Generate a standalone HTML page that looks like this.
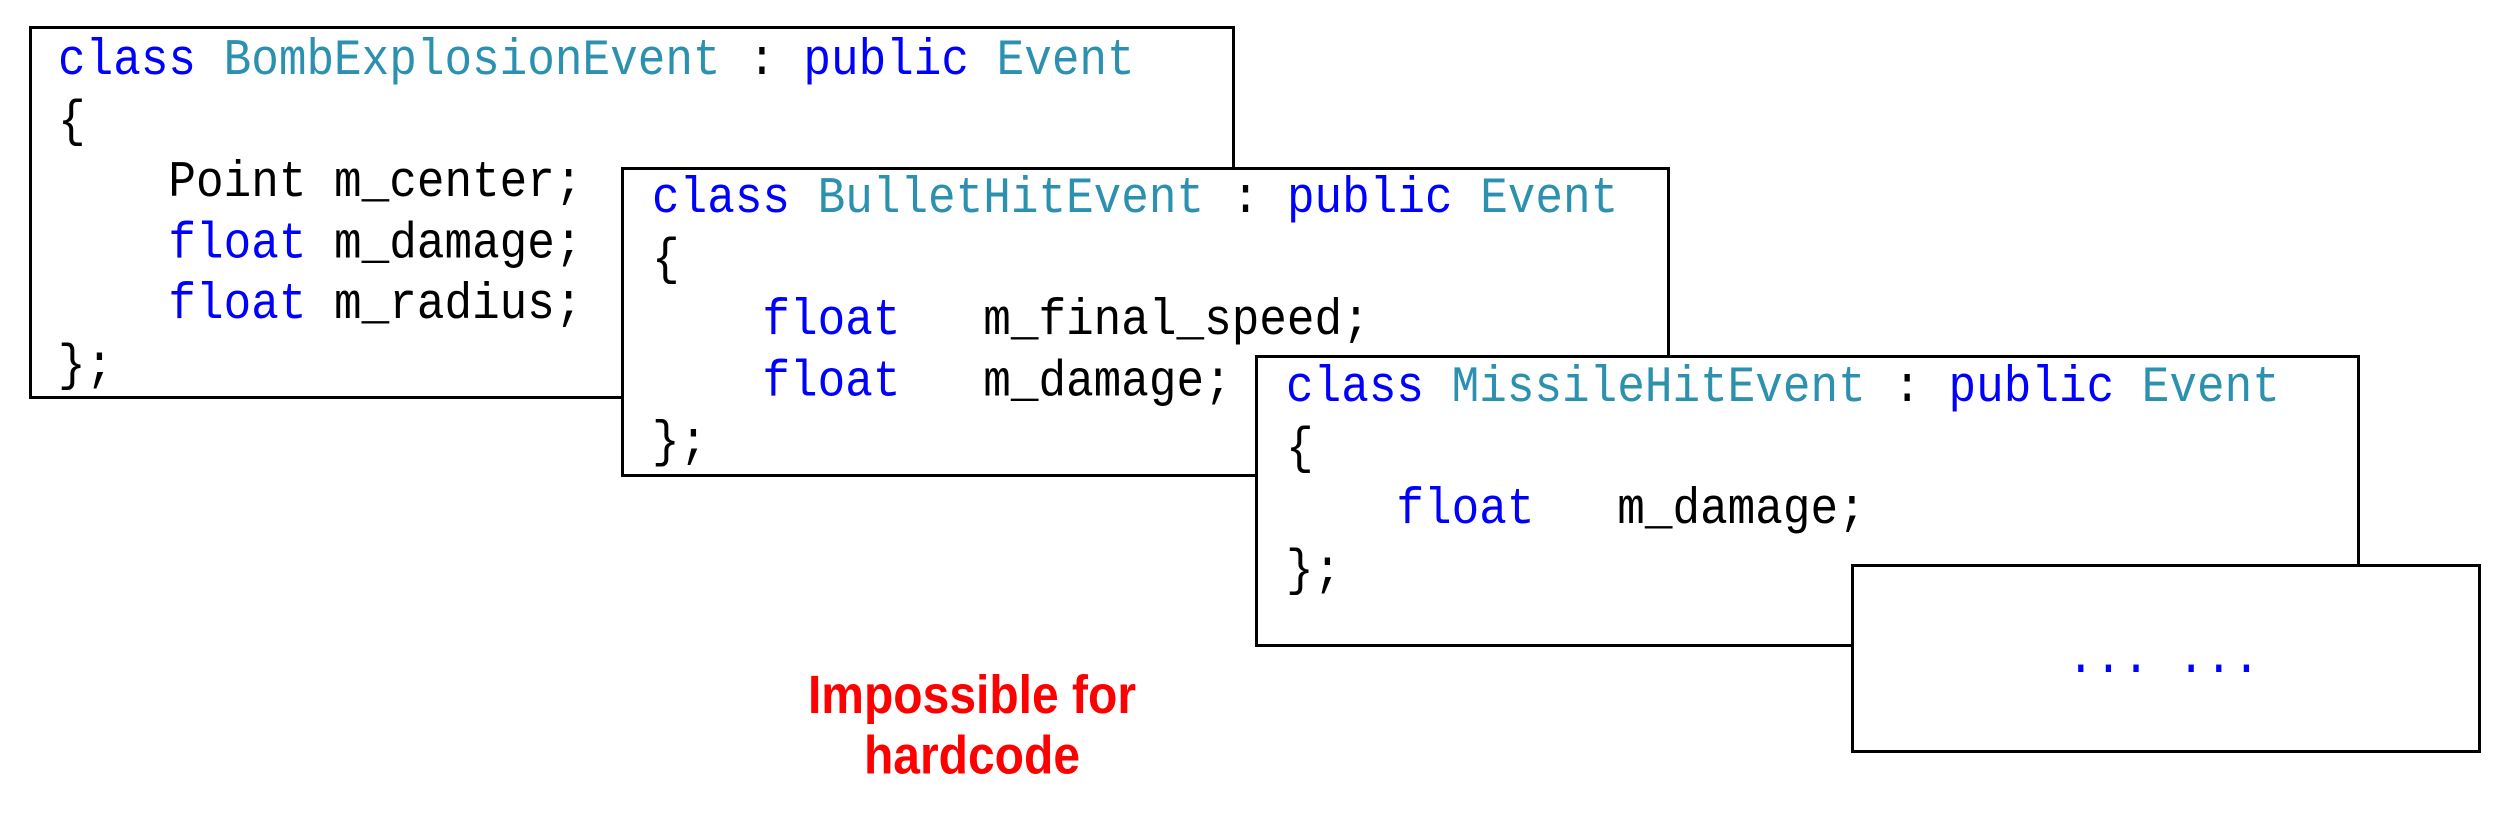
<!DOCTYPE html>
<html><head><meta charset="utf-8"><style>
html,body{margin:0;padding:0;background:#fff;}
body{width:2508px;height:814px;position:relative;overflow:hidden;}
.box{position:absolute;background:#fff;border:3px solid #000;box-sizing:border-box;}
.code{position:absolute;margin:0;font-family:"Liberation Mono",monospace;font-size:46px;line-height:55.5px;white-space:pre;color:#000;transform:scaleY(1.1);transform-origin:0 0;}
.k{color:#0000ff}.t{color:#2b91af}
.red{position:absolute;left:772px;top:666px;width:400px;text-align:center;font-family:"Liberation Sans",Arial,sans-serif;font-weight:bold;font-size:48px;line-height:54px;color:#ff0000;transform:scaleY(1.12);transform-origin:50% 0;}
</style></head><body>
<div class="box" style="left:29px;top:26px;width:1206px;height:373px;"></div>
<pre class="code" style="left:58px;top:31px;"><span class="k">class</span> <span class="t">BombExplosionEvent</span> : <span class="k">public</span> <span class="t">Event</span>
{
    Point m_center;
    <span class="k">float</span> m_damage;
    <span class="k">float</span> m_radius;
};</pre>
<div class="box" style="left:621px;top:167px;width:1049px;height:310px;"></div>
<pre class="code" style="left:652px;top:169px;"><span class="k">class</span> <span class="t">BulletHitEvent</span> : <span class="k">public</span> <span class="t">Event</span>
{
    <span class="k">float</span>   m_final_speed;
    <span class="k">float</span>   m_damage;
};</pre>
<div class="box" style="left:1255px;top:355px;width:1105px;height:292px;"></div>
<pre class="code" style="left:1286px;top:358px;"><span class="k">class</span> <span class="t">MissileHitEvent</span> : <span class="k">public</span> <span class="t">Event</span>
{
    <span class="k">float</span>   m_damage;
};</pre>
<div class="box" style="left:1851px;top:564px;width:630px;height:189px;"></div>
<pre class="code k" style="left:2067px;top:629px;color:#0000ff">... ...</pre>
<div class="red">Impossible for<br>hardcode</div>
</body></html>
